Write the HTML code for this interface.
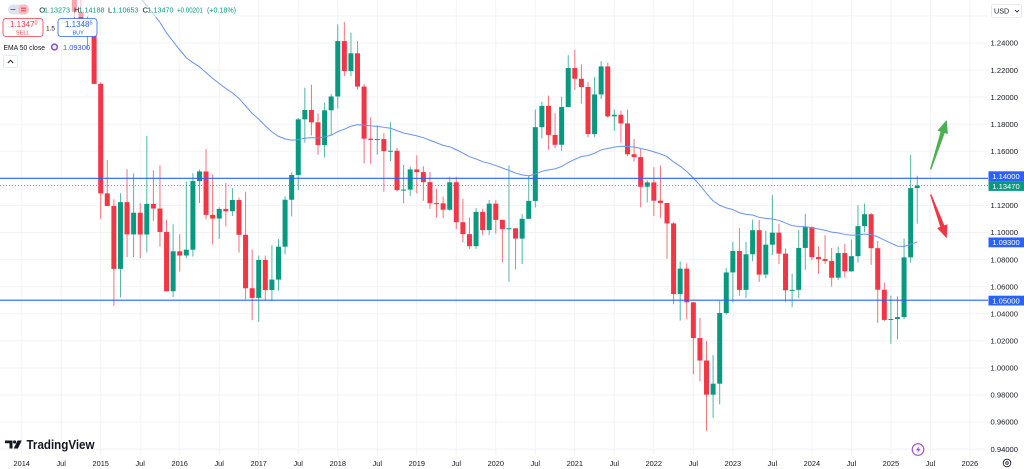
<!DOCTYPE html>
<html><head><meta charset="utf-8"><style>
html,body{margin:0;padding:0;background:#fff;}
svg{display:block;font-family:"Liberation Sans",sans-serif;}
</style></head><body>
<svg id="c" width="1024" height="469" viewBox="0 0 1024 469" xmlns="http://www.w3.org/2000/svg">
<rect width="1024" height="469" fill="#fff"/>
<g id="grid" stroke="#f2f3f6" stroke-width="1">
<line x1="0" x2="988" y1="15.9" y2="15.9"/><line x1="0" x2="988" y1="43" y2="43"/><line x1="0" x2="988" y1="70.1" y2="70.1"/><line x1="0" x2="988" y1="97.1" y2="97.1"/><line x1="0" x2="988" y1="124.2" y2="124.2"/><line x1="0" x2="988" y1="151.3" y2="151.3"/><line x1="0" x2="988" y1="178.4" y2="178.4"/><line x1="0" x2="988" y1="205.4" y2="205.4"/><line x1="0" x2="988" y1="232.5" y2="232.5"/><line x1="0" x2="988" y1="259.6" y2="259.6"/><line x1="0" x2="988" y1="286.7" y2="286.7"/><line x1="0" x2="988" y1="313.7" y2="313.7"/><line x1="0" x2="988" y1="340.8" y2="340.8"/><line x1="0" x2="988" y1="367.9" y2="367.9"/><line x1="0" x2="988" y1="394.9" y2="394.9"/><line x1="0" x2="988" y1="422" y2="422"/><line x1="0" x2="988" y1="449.1" y2="449.1"/>
<line y1="0" y2="455" x1="21.7" x2="21.7"/><line y1="0" y2="455" x1="61.2" x2="61.2"/><line y1="0" y2="455" x1="100.7" x2="100.7"/><line y1="0" y2="455" x1="140.2" x2="140.2"/><line y1="0" y2="455" x1="179.7" x2="179.7"/><line y1="0" y2="455" x1="219.2" x2="219.2"/><line y1="0" y2="455" x1="258.7" x2="258.7"/><line y1="0" y2="455" x1="298.2" x2="298.2"/><line y1="0" y2="455" x1="337.8" x2="337.8"/><line y1="0" y2="455" x1="377.3" x2="377.3"/><line y1="0" y2="455" x1="416.8" x2="416.8"/><line y1="0" y2="455" x1="456.3" x2="456.3"/><line y1="0" y2="455" x1="495.8" x2="495.8"/><line y1="0" y2="455" x1="535.3" x2="535.3"/><line y1="0" y2="455" x1="574.8" x2="574.8"/><line y1="0" y2="455" x1="614.3" x2="614.3"/><line y1="0" y2="455" x1="653.8" x2="653.8"/><line y1="0" y2="455" x1="693.3" x2="693.3"/><line y1="0" y2="455" x1="732.9" x2="732.9"/><line y1="0" y2="455" x1="772.4" x2="772.4"/><line y1="0" y2="455" x1="811.9" x2="811.9"/><line y1="0" y2="455" x1="851.4" x2="851.4"/><line y1="0" y2="455" x1="890.9" x2="890.9"/><line y1="0" y2="455" x1="930.4" x2="930.4"/><line y1="0" y2="455" x1="969.9" x2="969.9"/>
</g>
<defs><clipPath id="pc"><rect x="0" y="0" width="988" height="456"/></clipPath></defs>
<g clip-path="url(#pc)">
<g id="candles"></g>
<polyline id="ema" fill="none" stroke="#6a93f2" stroke-width="1" points=""/>
</g>
<!-- horizontal levels -->
<line x1="0" x2="988" y1="178.3" y2="178.3" stroke="#2962ff" stroke-width="1.2"/>
<line x1="0" x2="988" y1="300.2" y2="300.2" stroke="#2962ff" stroke-width="1.2"/>
<line x1="0" x2="988" y1="185.5" y2="185.5" stroke="#22ab94" stroke-width="1" stroke-dasharray="1,2" opacity="0.8"/>
<!-- arrows -->
<polygon points="930.03,169.08 940.59,131.70 937.44,130.68 946.7,120 947.92,134.08 944.77,133.06 931.37,169.52" fill="#4caf50"/>
<polygon points="930.04,194.74 940.23,226.85 937.13,227.98 946.7,238.3 947.47,224.22 944.37,225.35 931.36,194.26" fill="#f23645"/>
<!-- header fade -->
<rect x="0" y="0" width="240" height="17" fill="#fff" opacity="0.55"/>
<!-- header row 1 -->
<rect x="8" y="4.5" width="21" height="10" rx="5" fill="#e0e3eb"/>
<line x1="10.5" x2="15.5" y1="9.5" y2="9.5" stroke="#6a6d78" stroke-width="1"/>
<rect x="18.5" y="4.5" width="10" height="10" rx="4" fill="#f8bcc3"/>
<line x1="21" x2="26" y1="8.2" y2="8.2" stroke="#f23645" stroke-width="1"/>
<line x1="21" x2="26" y1="10.8" y2="10.8" stroke="#f23645" stroke-width="1"/>
<g font-size="7.6">
<text x="39.3" y="12.3" fill="#131722">O</text><text x="44" y="12.3" fill="#089981" textLength="26" lengthAdjust="spacingAndGlyphs">1.13273</text>
<text x="74" y="12.3" fill="#131722">H</text><text x="78.5" y="12.3" fill="#089981" textLength="26" lengthAdjust="spacingAndGlyphs">1.14188</text>
<text x="108" y="12.3" fill="#131722">L</text><text x="112.5" y="12.3" fill="#089981" textLength="26" lengthAdjust="spacingAndGlyphs">1.10653</text>
<text x="142.5" y="12.3" fill="#131722">C</text><text x="147.5" y="12.3" fill="#089981" textLength="26" lengthAdjust="spacingAndGlyphs">1.13470</text>
<text x="177" y="12.3" fill="#089981" textLength="26" lengthAdjust="spacingAndGlyphs">+0.00201</text>
<text x="207" y="12.3" fill="#089981" textLength="29" lengthAdjust="spacingAndGlyphs">(+0.18%)</text>
</g>
<!-- sell / buy -->
<rect x="3" y="18.5" width="40" height="18" rx="3" fill="#fff" stroke="#f23645" stroke-width="0.8"/>
<text x="10" y="27" font-size="8" fill="#f23645">1.1347<tspan font-size="5.5" dy="-2.5">0</tspan></text>
<text x="16" y="34.5" font-size="5.5" fill="#f23645">SELL</text>
<text x="46" y="30.5" font-size="6.5" fill="#131722">1.5</text>
<rect x="58" y="18.5" width="39" height="18" rx="3" fill="#fff" stroke="#2962ff" stroke-width="0.8"/>
<text x="65" y="27" font-size="8" fill="#2962ff">1.1348<tspan font-size="5.5" dy="-2.5">5</tspan></text>
<text x="72.5" y="34.5" font-size="5.5" fill="#2962ff">BUY</text>
<!-- EMA row -->
<text x="3.5" y="50" font-size="7.6" fill="#131722" textLength="41.5" lengthAdjust="spacingAndGlyphs">EMA 50 close</text>
<circle cx="54.5" cy="47" r="2.9" fill="#ede7f6" stroke="#7e57c2" stroke-width="1.5"/>
<text x="63" y="50" font-size="7.6" fill="#2962ff" textLength="27" lengthAdjust="spacingAndGlyphs">1.09300</text>
<rect x="3.5" y="55.5" width="14" height="12" rx="2" fill="#fff" stroke="#e0e3eb" stroke-width="0.8"/>
<path d="M7.8,63 L10.5,60.3 L13.2,63" fill="none" stroke="#131722" stroke-width="0.9"/>
<!-- USD -->
<rect x="991.5" y="4.5" width="30" height="13" rx="2" fill="#fff" stroke="#e0e3eb" stroke-width="0.8"/>
<text x="994" y="13.5" font-size="7.2" fill="#131722">USD</text>
<path d="M1015,10 L1017,12 L1019,10" fill="none" stroke="#131722" stroke-width="0.8"/>
<!-- price labels -->
<g font-size="7.6" fill="#131722" text-anchor="end">
<text x="1018" y="45.7">1.24000</text><text x="1018" y="72.8">1.22000</text><text x="1018" y="99.8">1.20000</text><text x="1018" y="126.9">1.18000</text><text x="1018" y="154">1.16000</text><text x="1018" y="208.1">1.12000</text><text x="1018" y="235.2">1.10000</text><text x="1018" y="262.3">1.08000</text><text x="1018" y="289.4">1.06000</text><text x="1018" y="316.4">1.04000</text><text x="1018" y="343.5">1.02000</text><text x="1018" y="370.6">1.00000</text><text x="1018" y="397.6">0.98000</text><text x="1018" y="424.7">0.96000</text><text x="1018" y="451.8">0.94000</text>
</g>
<rect x="988.5" y="171.3" width="35.5" height="9.8" fill="#2962ff"/>
<text x="1006" y="179" font-size="7.6" fill="#fff" text-anchor="middle">1.14000</text>
<rect x="988.5" y="181.1" width="35.5" height="9.8" fill="#089981"/>
<text x="1006" y="188.8" font-size="7.6" fill="#fff" text-anchor="middle">1.13470</text>
<rect x="988.5" y="237.5" width="35.5" height="9.8" fill="#2962ff"/>
<text x="1006" y="245.2" font-size="7.6" fill="#fff" text-anchor="middle">1.09300</text>
<rect x="988.5" y="295.7" width="35.5" height="9.8" fill="#2962ff"/>
<text x="1006" y="303.4" font-size="7.6" fill="#fff" text-anchor="middle">1.05000</text>
<!-- time labels -->
<g font-size="7.4" fill="#131722" text-anchor="middle">
<text x="21.7" y="466">2014</text><text x="61.2" y="466">Jul</text><text x="100.7" y="466">2015</text><text x="140.2" y="466">Jul</text><text x="179.7" y="466">2016</text><text x="219.2" y="466">Jul</text><text x="258.7" y="466">2017</text><text x="298.2" y="466">Jul</text><text x="337.8" y="466">2018</text><text x="377.3" y="466">Jul</text><text x="416.8" y="466">2019</text><text x="456.3" y="466">Jul</text><text x="495.8" y="466">2020</text><text x="535.3" y="466">Jul</text><text x="574.8" y="466">2021</text><text x="614.3" y="466">Jul</text><text x="653.8" y="466">2022</text><text x="693.3" y="466">Jul</text><text x="732.9" y="466">2023</text><text x="772.4" y="466">Jul</text><text x="811.9" y="466">2024</text><text x="851.4" y="466">Jul</text><text x="890.9" y="466">2025</text><text x="930.4" y="466">Jul</text><text x="969.9" y="466">2026</text>
</g>
<!-- settings icon -->
<circle cx="1007" cy="463" r="3.8" fill="none" stroke="#131722" stroke-width="0.9"/>
<circle cx="1007" cy="463" r="1.3" fill="none" stroke="#131722" stroke-width="0.8"/>
<!-- lightning -->
<circle cx="918" cy="449.5" r="5.8" fill="#fff" stroke="#9c4dcc" stroke-width="1.1"/>
<path d="M919.6,445.6 L915.8,450.3 L918.2,450.3 L916.9,453.6 L920.6,448.8 L918.2,448.8 Z" fill="#9c4dcc"/>
<!-- TradingView logo -->
<path d="M5,440.5 H12.5 V448.5 H9.5 V443.2 H5 Z" fill="#131722"/>
<circle cx="14.6" cy="442" r="1.6" fill="#131722"/>
<path d="M17.6,440.5 H21.8 L17.9,448.5 H13.7 Z" fill="#131722"/>
<text x="26.5" y="449" font-size="12.5" font-weight="bold" fill="#131722" textLength="68" lengthAdjust="spacingAndGlyphs">TradingView</text>
</svg>
<script>
(function(){
var D=[
[1.3743,1.3775,1.3477,1.3484],[1.3484,1.3825,1.3477,1.3803],[1.3803,1.3967,1.3705,1.3770],[1.3770,1.3906,1.3674,1.3868],[1.3868,1.3993,1.3588,1.3638],[1.3638,1.3700,1.3503,1.3692],[1.3692,1.3700,1.3367,1.3390],[1.3390,1.3443,1.3105,1.3131],[1.3131,1.3221,1.2571,1.2631],[1.2631,1.2887,1.2501,1.2525],[1.2525,1.2600,1.2358,1.2450],[1.2450,1.2570,1.2098,1.2098],
[1.2098,1.2110,1.1098,1.1289],[1.1289,1.1535,1.1198,1.1196],[1.1196,1.1245,1.0458,1.0731],[1.0731,1.1290,1.0520,1.1224],[1.1224,1.1467,1.0818,1.0986],[1.0986,1.1436,1.0819,1.1146],[1.1146,1.1216,1.0809,1.0985],[1.0985,1.1714,1.0852,1.1211],[1.1211,1.1460,1.1087,1.1177],[1.1177,1.1495,1.0896,1.1004],[1.1004,1.1095,1.0564,1.0566],[1.0566,1.1060,1.0524,1.0861],
[1.0861,1.0986,1.0711,1.0830],[1.0830,1.1376,1.0810,1.0873],[1.0873,1.1438,1.0822,1.1380],[1.1380,1.1464,1.1217,1.1451],[1.1451,1.1616,1.1098,1.1130],[1.1130,1.1428,1.0912,1.1103],[1.1103,1.1186,1.0952,1.1174],[1.1174,1.1366,1.1046,1.1157],[1.1157,1.1328,1.1122,1.1240],[1.1240,1.1258,1.0852,1.0983],[1.0983,1.1300,1.0506,1.0588],[1.0588,1.0874,1.0352,1.0517],
[1.0517,1.0829,1.0340,1.0797],[1.0797,1.0829,1.0494,1.0575],[1.0575,1.0906,1.0495,1.0652],[1.0652,1.0950,1.0570,1.0895],[1.0895,1.1268,1.0839,1.1242],[1.1242,1.1445,1.1118,1.1425],[1.1425,1.1846,1.1313,1.1836],[1.1836,1.2070,1.1663,1.1905],[1.1905,1.2092,1.1717,1.1814],[1.1814,1.1880,1.1574,1.1646],[1.1646,1.1961,1.1554,1.1903],[1.1903,1.2023,1.1717,1.2005],
[1.2005,1.2537,1.1916,1.2414],[1.2414,1.2556,1.2156,1.2193],[1.2193,1.2477,1.2155,1.2324],[1.2324,1.2414,1.2055,1.2078],[1.2078,1.2096,1.1510,1.1693],[1.1693,1.1852,1.1508,1.1684],[1.1684,1.1791,1.1575,1.1690],[1.1690,1.1734,1.1301,1.1601],[1.1601,1.1815,1.1527,1.1604],[1.1604,1.1625,1.1302,1.1313],[1.1313,1.1500,1.1216,1.1317],[1.1317,1.1486,1.1269,1.1466],
[1.1466,1.1570,1.1289,1.1446],[1.1446,1.1489,1.1234,1.1372],[1.1372,1.1448,1.1176,1.1217],[1.1217,1.1324,1.1110,1.1215],[1.1215,1.1265,1.1107,1.1168],[1.1168,1.1412,1.1160,1.1371],[1.1371,1.1412,1.1026,1.1076],[1.1076,1.1249,1.0926,1.0988],[1.0988,1.1110,1.0879,1.0899],[1.0899,1.1180,1.0879,1.1152],[1.1152,1.1175,1.0981,1.1018],[1.1018,1.1240,1.0981,1.1213],
[1.1213,1.1239,1.0992,1.1093],[1.1093,1.1095,1.0778,1.1026],[1.1026,1.1496,1.0636,1.1031],[1.1031,1.1031,1.0727,1.0955],[1.0955,1.1136,1.0767,1.1101],[1.1101,1.1422,1.1101,1.1233],[1.1233,1.1908,1.1185,1.1778],[1.1778,1.1966,1.1696,1.1935],[1.1935,1.2011,1.1612,1.1721],[1.1721,1.1881,1.1622,1.1648],[1.1648,1.2004,1.1603,1.1927],[1.1927,1.2310,1.1925,1.2215],
[1.2215,1.2349,1.2054,1.2136],[1.2136,1.2243,1.1952,1.2075],[1.2075,1.2113,1.1704,1.1727],[1.1727,1.2150,1.1704,1.2020],[1.2020,1.2266,1.1986,1.2227],[1.2227,1.2254,1.1847,1.1858],[1.1858,1.1909,1.1752,1.1870],[1.1870,1.1900,1.1664,1.1806],[1.1806,1.1909,1.1563,1.1578],[1.1578,1.1692,1.1524,1.1557],[1.1557,1.1616,1.1186,1.1338],[1.1338,1.1386,1.1222,1.1370],
[1.1370,1.1482,1.1121,1.1235],[1.1235,1.1495,1.1106,1.1218],[1.1218,1.1218,1.0806,1.1067],[1.1067,1.1076,1.0470,1.0545],[1.0545,1.0787,1.0349,1.0733],[1.0733,1.0773,1.0359,1.0484],[1.0484,1.0486,0.9952,1.0220],[1.0220,1.0369,0.9900,1.0054],[1.0054,1.0198,0.9535,0.9802],[0.9802,1.0094,0.9631,0.9883],[0.9883,1.0497,0.9730,1.0405],[1.0405,1.0736,1.0393,1.0705],
[1.0705,1.0929,1.0482,1.0863],[1.0863,1.1033,1.0533,1.0576],[1.0576,1.0930,1.0516,1.0839],[1.0839,1.1095,1.0788,1.1017],[1.1017,1.1092,1.0635,1.0689],[1.0689,1.1012,1.0662,1.0910],[1.0910,1.1276,1.0833,1.0999],[1.0999,1.1065,1.0766,1.0844],[1.0844,1.0882,1.0488,1.0573],[1.0573,1.0695,1.0448,1.0576],[1.0576,1.1017,1.0516,1.0886],[1.0886,1.1139,1.0723,1.1039],
[1.1039,1.1046,1.0795,1.0818],[1.0818,1.0897,1.0695,1.0804],[1.0804,1.0981,1.0768,1.0790],[1.0790,1.0885,1.0601,1.0666],[1.0666,1.0895,1.0650,1.0848],[1.0848,1.0916,1.0668,1.0713],[1.0713,1.0948,1.0710,1.0825],[1.0825,1.1202,1.0777,1.1047],[1.1047,1.1214,1.1002,1.1135],[1.1135,1.1144,1.0761,1.0884],[1.0884,1.0937,1.0333,1.0577],[1.0577,1.0630,1.0344,1.0354],
[1.0354,1.0533,1.0178,1.0361],[1.0361,1.0528,1.0210,1.0375],[1.0375,1.0955,1.0360,1.0816],[1.0816,1.1573,1.0778,1.1328],[1.1328,1.1419,1.1065,1.1347]
];
function X(m){return 100.7+6.585*m;}
function Y(p){return 43+(1.24-p)*1353.5;}
var g=document.getElementById("candles");
var s="";
for(var i=0;i<D.length;i++){
var m=i-12,o=D[i][0],h=D[i][1],l=D[i][2],c=D[i][3];
var x=X(m),up=c>=o,col=up?"#089981":"#f23645";
s+='<line x1="'+x+'" x2="'+x+'" y1="'+Y(h)+'" y2="'+Y(l)+'" stroke="'+col+'" stroke-width="1" opacity="0.7"/>';
var yt=Y(Math.max(o,c)),yb=Y(Math.min(o,c));
s+='<rect x="'+(x-2.5)+'" y="'+yt+'" width="5" height="'+Math.max(yb-yt,1)+'" fill="'+col+'"/>';
}
g.innerHTML=s;
var e=1.327,a=2/51,pts=[X(-1)+","+Y(e)];
for(var i=12;i<D.length;i++){e=e+a*(D[i][3]-e);pts.push(X(i-12)+","+Y(e));}
document.getElementById("ema").setAttribute("points",pts.join(" "));
})();
</script>
</body></html>
